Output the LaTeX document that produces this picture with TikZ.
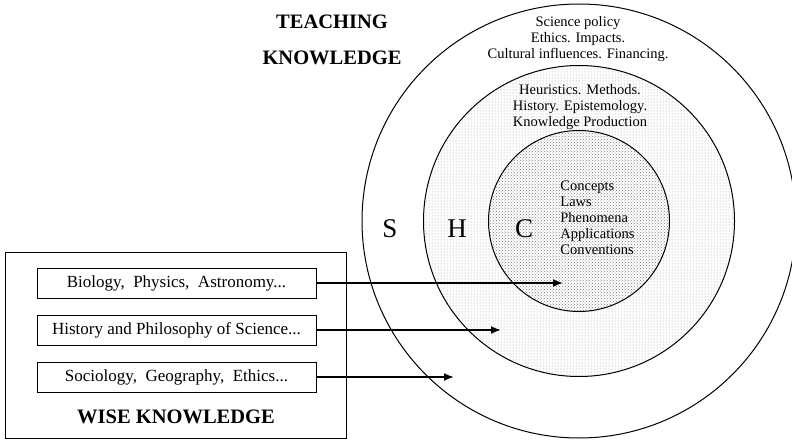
\documentclass[tikz,border=0pt]{standalone}
\usepackage{fontspec}
\setmainfont{Liberation Serif}
\usetikzlibrary{patterns,arrows.meta}
\begin{document}
\begin{tikzpicture}[x=1pt,y=-1pt,thick,font=\fontsize{14.5}{16}\selectfont,
 ring/.style={circle,draw,line width=1pt,inner sep=0pt},
 field/.style={draw,line width=0.8pt,minimum width=279pt,minimum height=30pt,inner sep=0pt,font=\fontsize{17}{18}\selectfont},
 big/.style={font=\fontsize{20.5}{36}\selectfont\bfseries},
 letter/.style={font=\fontsize{27}{27}\selectfont},
 link/.style={line width=1.8pt,-{Latex[length=10pt,width=8pt]}}]
 \useasboundingbox (0,0) rectangle (792,441);
 % the three circles
 \node[ring,minimum size=434pt] (S) at (579,221) {};
 \node[ring,minimum size=311pt,preaction={fill=white},pattern=dots,pattern color=gray!80] (H) at (579,221) {};
 \node[ring,minimum size=181pt,preaction={fill=white},pattern=crosshatch dots,pattern color=gray] (C) at (579,221) {};
 \node[letter] (sl) at (390,229) {S};
 \node[letter] (hl) at (457,229) {H};
 \node[letter] (cl) at (524,229) {C};
 \node[align=center] (policy) at (578,39) {Science policy\\Ethics. Impacts.\\Cultural influences. Financing.};
 \node[align=center] (method) at (580,107) {Heuristics. Methods.\\History. Epistemology.\\Knowledge Production};
 \node[align=left,anchor=west,inner sep=0pt] (concepts) at (560,218) {Concepts\\Laws\\Phenomena\\Applications\\Conventions};
 \node[big,align=center] (teach) at (332,40) {TEACHING\\KNOWLEDGE};
 % wise knowledge box
 \draw[line width=0.8pt] (5,252) rectangle (346,438);
 \node[field] (bio) at (176.5,283) {Biology,\ \ Physics,\ \ Astronomy...};
 \node[field] (hist) at (176.5,330) {History and Philosophy of Science...};
 \node[field] (soc) at (176.5,377) {Sociology,\ \ Geography,\ \ Ethics...};
 \node[big] (wise) at (176,417) {WISE KNOWLEDGE};
 % arrows
 \coordinate (bioend) at (563,283);
 \coordinate (histend) at (501,330);
 \coordinate (socend) at (454,377);
 \draw[link] (bio) -- (bioend);
 \draw[link] (hist) -- (histend);
 \draw[link] (soc) -- (socend);
\end{tikzpicture}
\end{document}
